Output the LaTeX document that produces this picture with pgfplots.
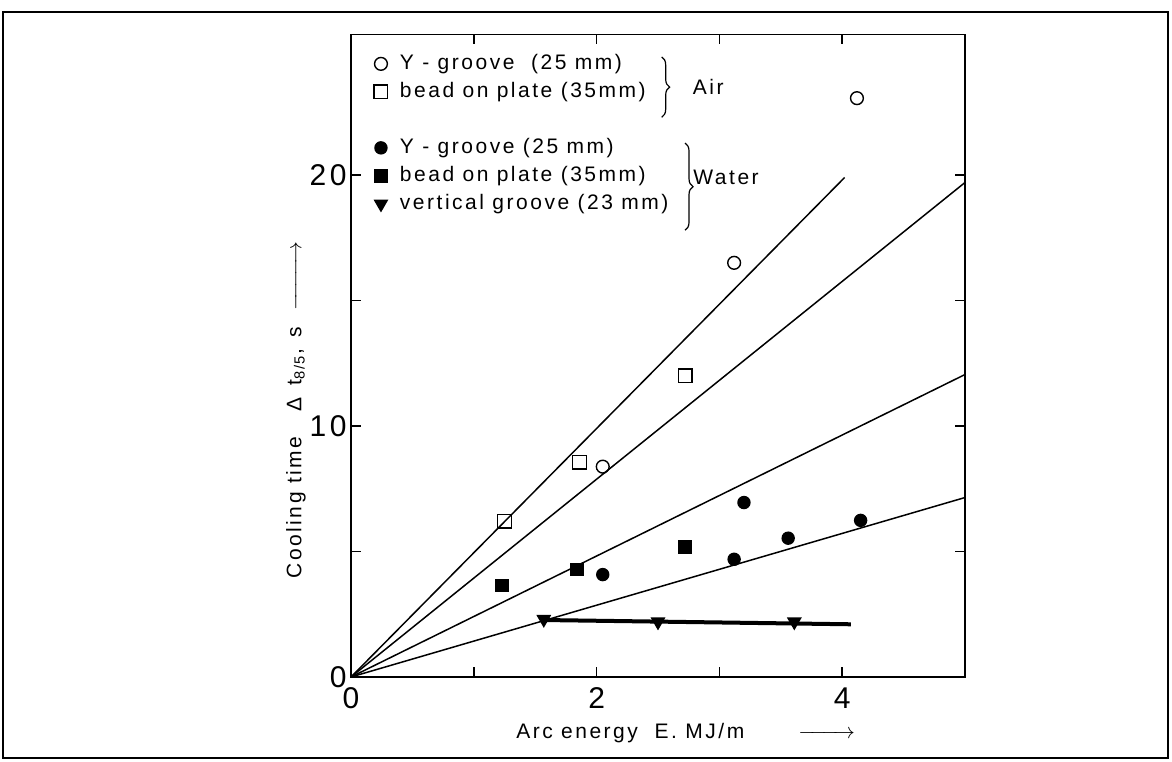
\documentclass[border=0pt]{standalone}
\usepackage{amsmath}
\usepackage{fontspec}
\setmainfont{Liberation Sans}[LetterSpace=12]
\usepackage{pgfplots}
\pgfplotsset{compat=1.18}
\usetikzlibrary{decorations.pathreplacing}

\pgfplotstableread{
x y
2.05 8.38
3.12 16.5
4.12 23.06
}\airV
\pgfplotstableread{
x y
1.25 6.2
1.86 8.56
2.72 12.0
}\airB
\pgfplotstableread{
x y
2.05 4.08
3.12 4.69
3.20 6.95
3.56 5.53
4.15 6.24
}\waterV
\pgfplotstableread{
x y
1.23 3.64
1.84 4.28
2.72 5.18
}\waterB
\pgfplotstableread{
x y
1.57 2.30
2.50 2.20
3.61 2.20
}\waterVert

\pgfplotsset{
  mymark/.style={only marks, black, line width=0.7pt,
    legend image code/.code={\path[draw=none,fill=none] (-1pt,0pt) -- (13pt,0pt);\draw[mark repeat=2,mark phase=2,##1] plot coordinates {(0pt,0pt)(5pt,0pt)(10pt,0pt)};}},
}

\begin{document}
\begin{tikzpicture}
\useasboundingbox (0,0) rectangle (586pt,380.5pt);
\draw[line width=1pt] (1.5pt,1.5pt) rectangle (584pt,374.5pt);
\begin{axis}[
  at={(175.5pt,42pt)}, anchor=south west,
  scale only axis, width=307pt, height=321.3pt,
  xmin=0, xmax=5, ymin=0, ymax=25.6,
  xtick={0,1,2,3,4,5}, xticklabels={0,,2,,4,},
  ytick={0,5,10,15,20}, yticklabels={0,,10,,20},
  tick pos=both, tick align=inside, major tick length=5pt,
  axis line style={line width=0.8pt},
  every tick/.style={line width=0.8pt, black},
  ticklabel style={font=\fontsize{15}{15}\selectfont},
  xticklabel style={inner sep=1pt, yshift=-4pt},
  yticklabel style={inner sep=1pt, xshift=-1pt},
  xlabel={Arc energy \ E. MJ/m\hspace{27pt}$\xrightarrow{\hspace{22pt}}$},
  xlabel style={at={(axis description cs:0.545,-0.087)}, anchor=center, font=\fontsize{10.5}{12}\selectfont},
  ylabel={Cooling time \ \ Δ \,t\textsubscript{8/5}, \,s\hspace{8pt}$\xrightarrow{\hspace{28pt}}$},
  ylabel style={at={(axis description cs:-0.0896,0.415)}, anchor=center, font=\fontsize{10.5}{12}\selectfont},
  legend style={draw=none, fill=none, at={(axis cs:0.143,24.98)}, anchor=north west,
    font=\fontsize{10.5}{12}\selectfont, inner sep=0pt, row sep=0.5pt,
    nodes={inner sep=1.5pt, text height=8pt, text depth=2.5pt}},
  legend cell align=left,
  clip=false,
]
\addplot[mymark, mark=o, mark size=3.2pt] table {\airV};
\addlegendentry{Y - groove \ (25 mm)}
\addplot[mymark, mark=square, mark size=3.4pt] table {\airB};
\addlegendentry{bead on plate (35mm)}
\addlegendimage{empty legend}
\addlegendentry{}
\addplot[mymark, mark=*, mark size=3pt] table {\waterV};
\addlegendentry{Y - groove (25 mm)}
\addplot[mymark, mark=square*, mark size=3pt] table {\waterB};
\addlegendentry{bead on plate (35mm)}
\addplot[mymark, mark=triangle*, mark size=3.6pt, mark options={rotate=180}] table {\waterVert};
\addlegendentry{vertical groove (23 mm)}

\addplot[black, line width=0.75pt, forget plot] coordinates {(0,0) (4.02,19.9)};
\addplot[black, line width=0.75pt, forget plot] coordinates {(0,0) (5,19.7)};
\addplot[black, line width=0.75pt, forget plot] coordinates {(0,0) (5,12.05)};
\addplot[black, line width=0.75pt, forget plot] coordinates {(0,0) (5,7.15)};
\addplot[black, line width=2pt, forget plot] coordinates {(1.57,2.27) (4.07,2.10)};

\draw[decorate, decoration={brace, amplitude=4pt}, line width=0.6pt] (axis cs:2.53,24.7) -- (axis cs:2.53,22.3);
\node[anchor=west, inner sep=0pt, font=\fontsize{10.5}{12}\selectfont] at (axis cs:2.78,23.5) {Air};
\draw[decorate, decoration={brace, amplitude=4pt}, line width=0.6pt] (axis cs:2.72,21.27) -- (axis cs:2.72,17.8);
\node[anchor=west, inner sep=0pt, font=\fontsize{10.5}{12}\selectfont] at (axis cs:2.785,19.9) {Water};
\end{axis}
\end{tikzpicture}
\end{document}
